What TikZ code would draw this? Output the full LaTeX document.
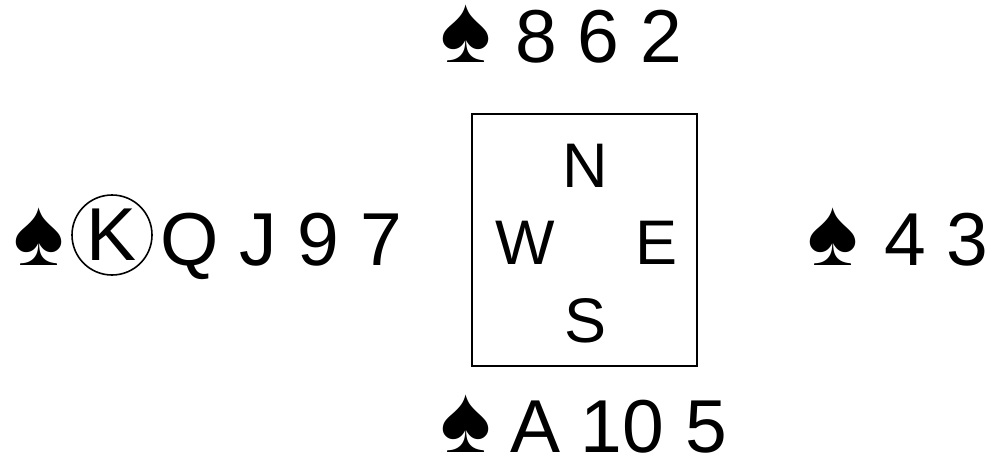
\documentclass[tikz,border=0pt]{standalone}
\usepackage{fontspec}
\setmainfont{Liberation Sans}
\begin{document}
\begin{tikzpicture}[x=0.5pt,y=-0.5pt,
  hand/.style={inner sep=0pt, outer sep=0pt, anchor=base west, text depth=0pt, font=\fontsize{37.5}{42}\selectfont},
  suit/.style={inner sep=0pt, outer sep=0pt, anchor=base west, text height=25pt, text depth=0pt, font=\fontsize{48}{50}\selectfont},
  dir/.style={inner sep=0pt, outer sep=0pt, anchor=base, font=\fontsize{31.5}{36}\selectfont}]
\useasboundingbox (0,0) rectangle (988,460);
% North
\node[suit] (ns) at (440,63) {♠};
\node[hand] (nh) at (515,63) {8 6 2};
% South
\node[suit] (ss) at (440,452) {♠};
\node[hand] (sh) at (510,452) {A 10 5};
% East
\node[suit] (es) at (807,265) {♠};
\node[hand] (eh) at (884,265) {4 3};
% West
\node[suit] (ws) at (13,265) {♠};
\node[circle, draw, line width=0.8pt, inner sep=0pt, minimum size=40pt,
      font=\fontsize{37.5}{42}\selectfont] (wk) at (112,235) {K};
\node[hand] (wh) at (160,265) {Q J 9 7};
% Compass box
\draw[line width=0.75pt] (472,114) rectangle (697,366);
\node[dir] (n) at (585,187) {N};
\node[dir] (w) at (525,264) {W};
\node[dir] (e) at (656,264) {E};
\node[dir] (s) at (585,342) {S};
\end{tikzpicture}
\end{document}
